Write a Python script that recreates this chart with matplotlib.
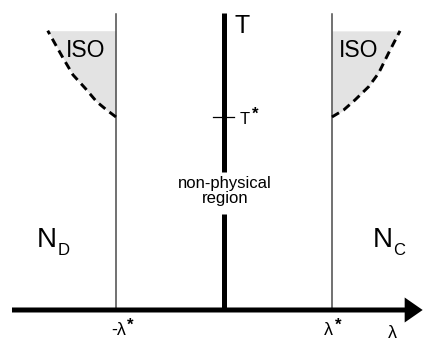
import matplotlib
matplotlib.use("Agg")
import matplotlib.pyplot as plt

plt.rcParams['font.family'] = ['Liberation Sans', 'DejaVu Sans']

# Schematic phase diagram in the (lambda, T) plane
lam_star = 1.0          # critical coupling lambda*
T_star = 1.0            # temperature T*
T_line_top = 1.534      # top of the thin phase boundaries at +/- lambda*
T_axis_top = 1.539      # top of the T axis
T_gap = [0.497, 0.715]  # break in the T axis for the text
lam_range = [-2.074, 1.843]
T_range = [-0.171, 1.606]
lam_axis = [-1.963, 1.84]

# ISO boundaries (dashed)
right_lam = [1.0, 1.108, 1.213, 1.340, 1.433, 1.525, 1.630]
right_T = [1.0, 1.036, 1.088, 1.157, 1.228, 1.332, 1.446]
left_lam = [-1.0, -1.086, -1.179, -1.287, -1.398, -1.491, -1.632]
left_T = [1.0, 1.036, 1.079, 1.150, 1.218, 1.306, 1.447]

fig = plt.figure(figsize=(4.23, 3.43), dpi=100)
ax = fig.add_axes([0, 0, 1, 1])
ax.set_xlim(*lam_range)
ax.set_ylim(*T_range)
ax.axis('off')

# shaded ISO regions
ax.fill_betweenx(right_T, right_lam, lam_star, color='#e3e3e3', lw=0, zorder=1)
ax.fill_betweenx(left_T, left_lam, -lam_star, color='#e3e3e3', lw=0, zorder=1)
for lx, ly in ((right_lam, right_T), (left_lam, left_T)):
    ax.plot(lx, ly, color='black', lw=2.1, dashes=(2.8, 1.8), zorder=3,
            dash_capstyle='butt')

# phase boundaries at +/- lambda*
for x in (-lam_star, lam_star):
    ax.plot([x, x], [0, T_line_top], color='#4a4a4a', lw=1.1, zorder=2)

# T axis, interrupted around the "non-physical region" text
ax.plot([0, 0], [T_gap[1], T_axis_top], color='black', lw=3.6, zorder=4,
        solid_capstyle='butt')
ax.plot([0, 0], [0, T_gap[0]], color='black', lw=3.6, zorder=4,
        solid_capstyle='butt')
ax.plot([-0.102, 0.093], [T_star, T_star], color='black', lw=0.9, zorder=5)

# lambda axis with arrow head
ax.arrow(lam_axis[0], 0, lam_axis[1] - lam_axis[0], 0, width=5 / 193,
         head_width=25 / 193, head_length=18 / 108, length_includes_head=True,
         color='black', lw=0, zorder=6)


def label_with_sub(x, y, main, sub):
    t = ax.text(x, y, main, fontsize=20, ha='left', va='baseline')
    ax.annotate(sub, xy=(1, 0), xycoords=t, xytext=(0.3, -3.2),
                textcoords='offset points', fontsize=12, ha='left', va='bottom')


# labels
ax.text(-1.278, 1.311, 'ISO', fontsize=16.5, ha='center', va='baseline')
ax.text(1.25, 1.311, 'ISO', fontsize=16.5, ha='center', va='baseline')
ax.text(0.093, 1.435, 'T', fontsize=18, ha='left', va='baseline')
ax.text(0.148, 0.964, 'T', fontsize=12, ha='left', va='baseline')
ax.text(0.255, 0.99, '*', fontsize=12, ha='left', va='baseline', fontweight='bold')
ax.text(0.009, 0.632, 'non-physical', fontsize=12, ha='center', va='baseline')
ax.text(0.009, 0.554, 'region', fontsize=12, ha='center', va='baseline')

label_with_sub(-1.731, 0.326, 'N', 'D')
label_with_sub(1.380, 0.326, 'N', 'C')

ax.text(-0.907, -0.130, '-λ', fontsize=13, ha='right', va='baseline')
ax.text(-0.898, -0.100, '*', fontsize=12, ha='left', va='baseline', fontweight='bold')
ax.text(0.963, -0.130, 'λ', fontsize=13, ha='center', va='baseline')
ax.text(1.03, -0.100, '*', fontsize=12, ha='left', va='baseline', fontweight='bold')
ax.text(1.556, -0.143, 'λ', fontsize=13, ha='center', va='baseline')

fig.savefig('out.png', dpi=100)
